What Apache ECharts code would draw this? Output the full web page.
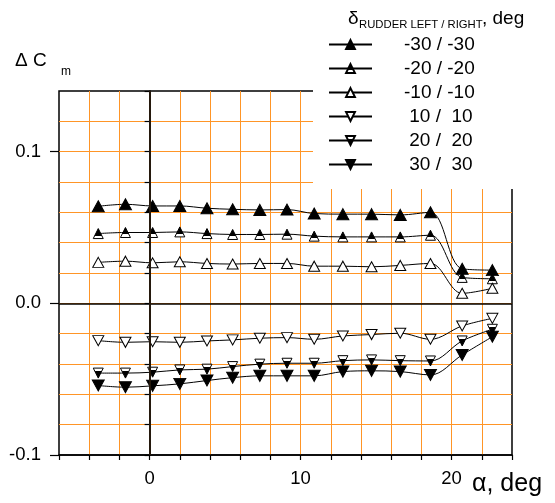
<!DOCTYPE html>
<html>
<head>
<meta charset="utf-8">
<script src="https://cdn.jsdelivr.net/npm/echarts@6/dist/echarts.min.js"></script>
<style>
  html, body { margin: 0; padding: 0; background: #fff; }
  #chart { width: 555px; height: 503px; }
</style>
</head>
<body>
<div id="chart"></div>
<script>
// angle of attack, deg
const alpha = [-3.4, -1.6, 0.2, 2.0, 3.8, 5.5, 7.3, 9.1, 10.9, 12.8, 14.7, 16.6, 18.6, 20.7, 22.7]
const rudderNames = ['-30 / -30', '-20 / -20', '-10 / -10', ' 10 /  10', ' 20 /  20', ' 30 /  30']

// delta Cm for each rudder setting
const dcmM30 = [0.064, 0.0653, 0.0642, 0.0642, 0.0627, 0.062, 0.0616, 0.0618, 0.0592, 0.0588, 0.0588, 0.0583, 0.060, 0.0228, 0.0219]
const dcmM20 = [0.046, 0.0467, 0.0467, 0.0471, 0.046, 0.0454, 0.0454, 0.0456, 0.0443, 0.0438, 0.0438, 0.0438, 0.0449, 0.0171, 0.0162]
const dcmM10 = [0.027, 0.0278, 0.0267, 0.0274, 0.0263, 0.0259, 0.0263, 0.0263, 0.0245, 0.0245, 0.0241, 0.025, 0.0263, 0.0066, 0.0099]
const dcmP10 = [-0.0246, -0.0257, -0.0253, -0.0257, -0.0248, -0.0241, -0.023, -0.0226, -0.0237, -0.0215, -0.0206, -0.0197, -0.0237, -0.0149, -0.0099]
const dcmP20 = [-0.046, -0.046, -0.0454, -0.0439, -0.0434, -0.0417, -0.0401, -0.0395, -0.0395, -0.0378, -0.0373, -0.0378, -0.038, -0.0248, -0.0171]
const dcmP30 = [-0.0542, -0.0553, -0.0544, -0.0531, -0.0509, -0.049, -0.0478, -0.0478, -0.0478, -0.045, -0.0445, -0.045, -0.0472, -0.034, -0.022]

const yLabelValues = [-0.1, 0, 0.1]

const FONT = '"Liberation Sans", Arial, sans-serif'
const ORANGE = '#ff9526'

const upTri = 'triangle'
const downTri = 'path://M0,0L20,0L10,18Z'

// two-tone fill for the half filled markers
const halfFill = (top, bottom, at) => ({
  type: 'linear', x: 0, y: 0, x2: 0, y2: 1,
  colorStops: [
    { offset: 0, color: top }, { offset: at, color: top },
    { offset: at, color: bottom }, { offset: 1, color: bottom }
  ]
})

const pairs = (ys) => alpha.map((a, i) => [a, ys[i]])

const makeSeries = (name, ys, symbol, size, fill) => ({
  name,
  type: 'line',
  data: pairs(ys),
  smooth: 0.35,
  symbol,
  symbolSize: size,
  showAllSymbol: true,
  lineStyle: { color: '#000', width: 1 },
  itemStyle: { color: fill, borderColor: '#000', borderWidth: 1 },
  emphasis: { disabled: true },
  z: 3
})

const series = [
  makeSeries(rudderNames[0], dcmM30, upTri, [12, 11], '#000'),
  makeSeries(rudderNames[1], dcmM20, upTri, [10, 10], halfFill('#000', '#fff', 0.68)),
  makeSeries(rudderNames[2], dcmM10, upTri, [11, 10], '#fff'),
  makeSeries(rudderNames[3], dcmP10, downTri, [11, 10], '#fff'),
  makeSeries(rudderNames[4], dcmP20, downTri, [10, 10], halfFill('#fff', '#000', 0.32)),
  makeSeries(rudderNames[5], dcmP30, downTri, [12, 11], '#000')
]

// zero lines
series[0].markLine = {
  silent: true,
  symbol: 'none',
  label: { show: false },
  animation: false,
  data: [
    { yAxis: 0, lineStyle: { color: '#000', width: 1.5, type: 'solid' } },
    { xAxis: 0, lineStyle: { color: '#24180c', width: 2, type: 'solid' } }
  ]
}

const chart = echarts.init(document.getElementById('chart'))

chart.setOption({
  animation: false,
  backgroundColor: '#fff',
  textStyle: { fontFamily: FONT },
  grid: {
    left: 59, right: 43, top: 91, bottom: 48,
    show: true, borderColor: '#000', borderWidth: 1.5, backgroundColor: 'transparent'
  },
  // legend box is opaque and hides the top right corner of the plot
  legend: {
    orient: 'vertical',
    left: 313,
    top: 0,
    padding: [35, 90, 15, 15],
    backgroundColor: '#fff',
    itemWidth: 43,
    itemHeight: 11,
    itemGap: 5,
    selectedMode: false,
    textStyle: { fontSize: 19, color: '#000', fontFamily: FONT, padding: [0, 0, 0, 27] },
    data: rudderNames
  },
  title: [
    { left: 348, top: 9, padding: 0, text: 'δ', textStyle: { fontSize: 19, fontWeight: 'normal', color: '#000', fontFamily: FONT } },
    { left: 359, top: 19.5, padding: 0, text: 'RUDDER LEFT / RIGHT', textStyle: { fontSize: 11.3, fontWeight: 'normal', color: '#000', fontFamily: FONT } },
    { left: 482, top: 9.5, padding: 0, text: ', deg', textStyle: { fontSize: 19, fontWeight: 'normal', color: '#000', fontFamily: FONT } }
  ],
  xAxis: {
    type: 'value',
    min: -6, max: 24, interval: 2,
    axisLine: { onZero: false, lineStyle: { color: '#000', width: 1.5 } },
    axisTick: { length: 5, lineStyle: { color: '#000', width: 1.2 } },
    axisLabel: {
      formatter: (v) => (v % 10 === 0 ? String(v) : ''),
      fontSize: 18.5, color: '#000', margin: 14
    },
    splitLine: { show: true, showMinLine: false, showMaxLine: false, lineStyle: { color: ORANGE, width: 1 } }
  },
  yAxis: [
    {
      type: 'value',
      min: -0.1, max: 0.14, interval: 0.02,
      axisLine: { show: true, lineStyle: { color: '#000', width: 1.5 } },
      axisTick: { show: true, length: 5, lineStyle: { color: '#000', width: 1.2 } },
      axisLabel: { show: false },
      splitLine: { show: true, showMinLine: false, showMaxLine: false, lineStyle: { color: ORANGE, width: 1 } }
    },
    {
      type: 'value',
      position: 'left',
      min: -0.1, max: 0.14,
      axisLine: { show: false },
      axisTick: { show: true, length: 9, customValues: yLabelValues, lineStyle: { color: '#000', width: 1.2 } },
      axisLabel: {
        customValues: yLabelValues,
        formatter: (v) => v.toFixed(1),
        fontSize: 18.5, color: '#000', margin: 18
      },
      splitLine: { show: false }
    }
  ],
  graphic: [
    { type: 'text', x: 15, y: 51, style: { text: 'Δ C', font: '19px ' + FONT, fill: '#000' } },
    { type: 'text', x: 61, y: 66, style: { text: 'm', font: '12px ' + FONT, fill: '#000' } },
    { type: 'text', x: 472, y: 472, style: { text: 'α, deg', font: '25px ' + FONT, fill: '#000' } }
  ],
  series
})
</script>
</body>
</html>
